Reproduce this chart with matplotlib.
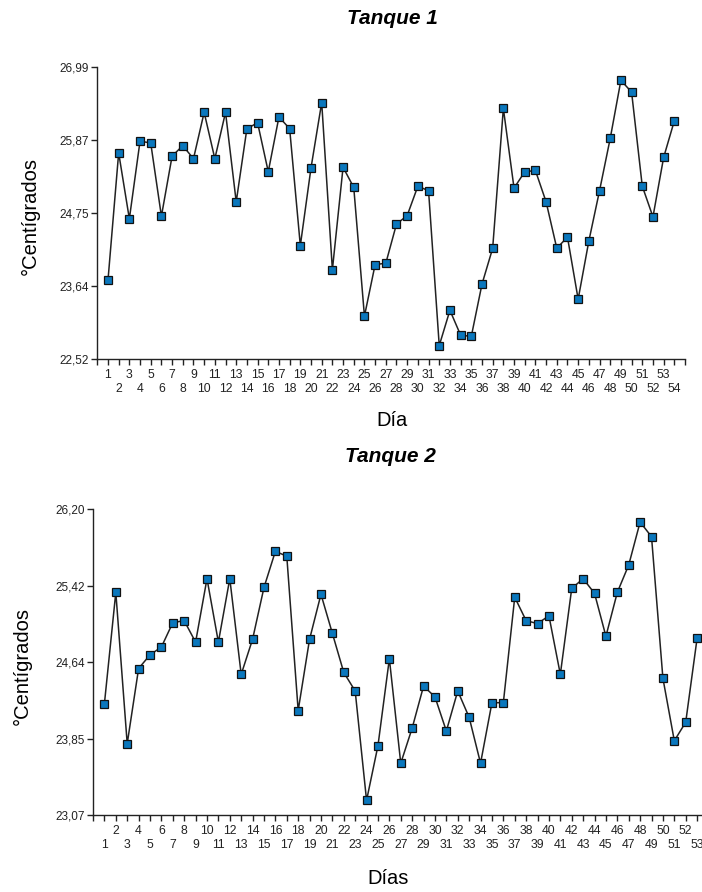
import matplotlib
matplotlib.use('Agg')
import matplotlib.pyplot as plt

# temperatura diaria por tanque
dias_1 = list(range(1, 55))
temp_1 = [23.73, 25.68, 24.67, 25.86, 25.83, 24.71, 25.63, 25.79, 25.59, 26.30,
          25.59, 26.30, 24.93, 26.05, 26.14, 25.39, 26.23, 26.05, 24.26, 25.45,
          26.45, 23.89, 25.46, 25.15, 23.18, 23.97, 23.99, 24.59, 24.72, 25.17,
          25.10, 22.73, 23.27, 22.89, 22.87, 23.67, 24.22, 26.36, 25.14, 25.39,
          25.41, 24.93, 24.22, 24.39, 23.44, 24.33, 25.10, 25.90, 26.79, 26.61,
          25.17, 24.70, 25.61, 26.17]

dias_2 = list(range(1, 54))
temp_2 = [24.21, 25.35, 23.80, 24.57, 24.71, 24.79, 25.04, 25.06, 24.84, 25.49,
          24.84, 25.49, 24.51, 24.87, 25.40, 25.77, 25.72, 24.14, 24.87, 25.33,
          24.93, 24.53, 24.34, 23.22, 23.78, 24.67, 23.60, 23.96, 24.39, 24.28,
          23.93, 24.34, 24.07, 23.60, 24.22, 24.22, 25.30, 25.06, 25.03, 25.11,
          24.51, 25.39, 25.49, 25.34, 24.90, 25.35, 25.63, 26.07, 25.92, 24.47,
          23.83, 24.02, 24.88]

yticks_1 = [22.52, 23.6375, 24.755, 25.8725, 26.99]
ylabels_1 = ['22,52', '23,64', '24,75', '25,87', '26,99']
yticks_2 = [23.07, 23.8525, 24.635, 25.4175, 26.20]
ylabels_2 = ['23,07', '23,85', '24,64', '25,42', '26,20']

narrow = ['Liberation Sans Narrow', 'Liberation Sans', 'DejaVu Sans']
regular = ['Liberation Sans', 'DejaVu Sans']
plt.rcParams['font.family'] = regular

fig = plt.figure(figsize=(7.02, 8.92), dpi=100)
ax1 = fig.add_axes([0.1386, 0.5972, 0.8372, 0.3274])
ax2 = fig.add_axes([0.1325, 0.0863, 0.8930, 0.3427])


def dibujar(ax, dias, temp, yt, yl, primera_fila):
    ax.plot(dias, temp, color='#222222', lw=1.1, marker='s', ms=5.2,
            mfc='#0a77bd', mec='#111111', mew=0.9, clip_on=False)
    ax.set_xlim(0, 55)
    ax.set_ylim(yt[0], yt[-1])
    # una fila de etiquetas arriba (major) y la otra debajo (minor)
    arriba = [d for d in dias if d % 2 == primera_fila]
    abajo = [d for d in range(0, 56) if d not in arriba]
    ax.set_xticks(arriba, [str(d) for d in arriba])
    ax.set_xticks(abajo, [str(d) if d in dias else '' for d in abajo],
                  minor=True)
    for lab in ax.get_xticklabels(minor=False) + ax.get_xticklabels(minor=True):
        lab.set_fontfamily(narrow)
        lab.set_fontsize(8.8)
    ax.set_yticks(yt, yl)
    ax.tick_params(axis='y', labelsize=8.5)
    ax.tick_params(which='both', direction='out', length=4, width=1,
                   colors='#222222', labelcolor='#222222')
    ax.tick_params(axis='y', pad=2)
    ax.tick_params(axis='x', which='major', pad=3)
    ax.tick_params(axis='x', which='minor', pad=13)
    for s in ['top', 'right']:
        ax.spines[s].set_visible(False)
    for s in ['left', 'bottom']:
        ax.spines[s].set_color('#222222')
        ax.spines[s].set_linewidth(1.0)


dibujar(ax1, dias_1, temp_1, yticks_1, ylabels_1, 1)
dibujar(ax2, dias_2, temp_2, yticks_2, ylabels_2, 0)

fig.text(392 / 702, 1 - 18 / 892, 'Tanque 1', ha='center', va='center',
         fontsize=15, fontweight='bold', fontstyle='italic')
fig.text(390 / 702, 1 - 457 / 892, 'Tanque 2', ha='center', va='center',
         fontsize=15, fontweight='bold', fontstyle='italic')
fig.text(392 / 702, 1 - 420 / 892, 'Día', ha='center', va='center', fontsize=14.5)
fig.text(388 / 702, 1 - 879 / 892, 'Días', ha='center', va='center', fontsize=14.5)
fig.text(30 / 702, 1 - 216 / 892, '°Centígrados', ha='center', va='center',
         rotation=90, fontsize=14.5)
fig.text(22 / 702, 1 - 666 / 892, '°Centígrados', ha='center', va='center',
         rotation=90, fontsize=14.5)

fig.savefig('out.png', dpi=100)
